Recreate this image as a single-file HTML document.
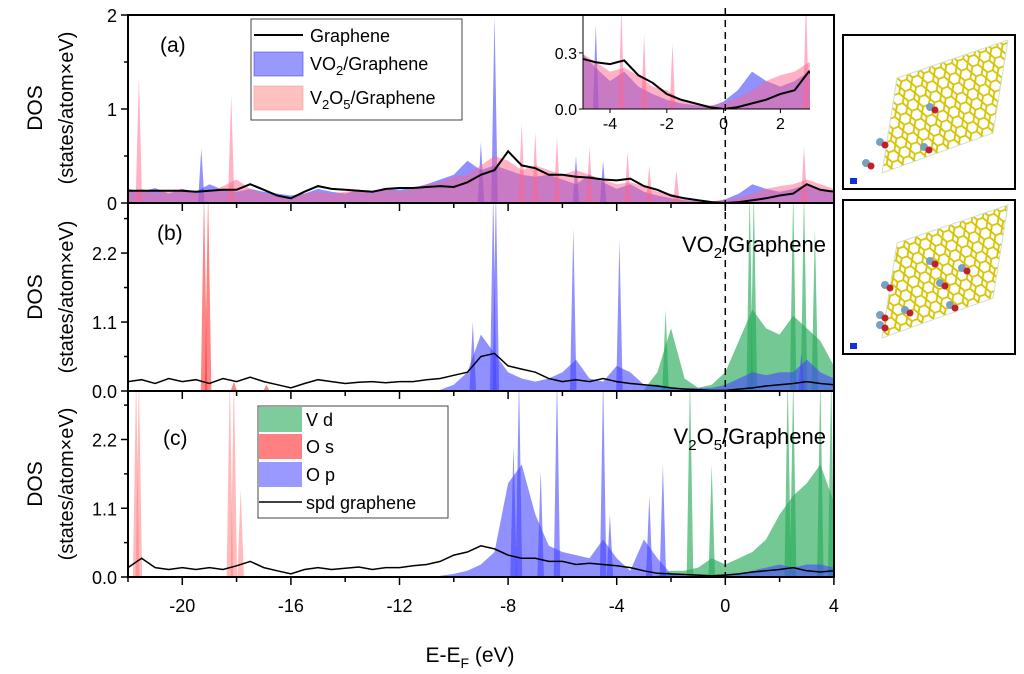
<!DOCTYPE html>
<html><head><meta charset="utf-8"><style>
html,body{margin:0;padding:0;background:#fff;}
svg{display:block;font-family:"Liberation Sans",Arial,sans-serif;}
</style></head><body>
<svg id="chart" width="1024" height="674" viewBox="0 0 1024 674">
<defs>
<clipPath id="clipA"><rect x="128" y="15" width="706" height="188"/></clipPath>
<clipPath id="clipB"><rect x="128" y="203" width="706" height="188"/></clipPath>
<clipPath id="clipC"><rect x="128" y="391" width="706" height="186"/></clipPath>
<clipPath id="clipI"><rect x="583" y="15" width="227" height="94"/></clipPath>
<pattern id="hex" width="12" height="10.4" patternUnits="userSpaceOnUse" patternTransform="rotate(-20)">
<path d="M3 0 L9 0 L12 5.2 L9 10.4 L3 10.4 L0 5.2 Z" fill="none" stroke="#d6c400" stroke-width="1.8"/>
</pattern>
</defs>
<g id="layers"></g>
</svg>
<script>
// ---- data (energies start + 0.5 eV step) ----
const gridStart = -22;
const grA = [.13,.13,.13,.13,.13,.12,.13,.14,.14,.2,.14,.08,.05,.12,.18,.15,.14,.13,.12,.15,.16,.16,.17,.18,.17,.22,.3,.35,.55,.4,.37,.3,.3,.28,.27,.25,.24,.26,.18,.14,.08,.05,.03,.01,0,.01,.03,.05,.08,.1,.2,.14,.12];
const vo2A = [.15,.12,.16,.1,.15,.12,.2,.14,.12,.15,.12,.1,.08,.1,.15,.12,.1,.14,.12,.15,.14,.16,.2,.25,.3,.45,.35,.4,.35,.3,.28,.3,.25,.2,.3,.22,.15,.2,.12,.08,.05,.03,.02,.01,.04,.1,.2,.15,.12,.15,.2,.15,.1];
const vo2APeakE = [-19.3,-8.5,-9.0,-5.5,-4.5];
const vo2APeakH = [.58,2.0,.65,.5,.45];
const v2o5A = [.12,.15,.1,.13,.15,.1,.12,.18,.25,.15,.1,.08,.05,.1,.12,.1,.12,.14,.1,.15,.12,.15,.2,.22,.28,.3,.4,.5,.45,.35,.4,.35,.3,.35,.3,.25,.2,.22,.18,.12,.1,.05,.03,.02,.03,.06,.1,.15,.18,.2,.25,.2,.15];
const v2o5APeakE = [-21.6,-18.2,-7.5,-7.0,-6.2,-5.0,-3.6,-2.8,-1.8,2.9];
const v2o5APeakH = [1.35,1.15,.85,.75,.7,.6,.55,.4,.35,.6];

const grB = [.15,.18,.12,.2,.15,.18,.12,.2,.15,.22,.15,.1,.05,.12,.18,.15,.12,.14,.15,.13,.15,.15,.18,.2,.25,.3,.55,.6,.4,.35,.3,.2,.15,.18,.15,.2,.15,.12,.1,.08,.05,.03,.02,.01,.01,.03,.05,.08,.1,.12,.15,.12,.1];
const opBStart = -10.5;
const opB = [.02,.1,.3,.9,.6,.3,.2,.15,.2,.3,.5,.2,.15,.4,.3,.1,.1,.05,.05,.05,.05,.1,.2,.3,.25,.3,.3,.5,.3,.2];
const opBPeakE = [-9.3,-8.55,-8.45,-5.6,-3.9,2.8];
const opBPeakH = [1.1,3.2,3.2,2.6,2.4,0.6];
const vdBStart = -3;
const vdB = [.02,.3,1.0,.2,.05,.1,.3,.8,1.3,1.0,.9,1.2,1.0,.8,.4];
const vdBPeakE = [-2.2,0.9,1.05,2.5,2.9,3.3];
const vdBPeakH = [1.3,3.2,3.2,3.2,3.2,2.6];
const osBPeakE = [-19.2,-19.05,-18.1,-16.9];
const osBPeakH = [3.2,3.2,0.15,0.1];

const grC = [.15,.3,.15,.12,.15,.12,.15,.12,.18,.25,.15,.1,.05,.12,.15,.12,.14,.16,.12,.15,.15,.18,.2,.25,.35,.4,.5,.45,.35,.3,.3,.25,.25,.2,.22,.2,.18,.15,.1,.06,.05,.04,.03,.02,.03,.05,.08,.1,.12,.15,.1,.08,.1];
const opCStart = -10.5;
const opC = [.02,.05,.1,.2,.4,1.5,1.8,1.0,.5,.4,.35,.3,.6,.3,.1,.6,.3,.05,.02,.02,.02,.05,.05,.1,.15,.2,.15,.2,.2,.15];
const opCPeakE = [-7.8,-7.6,-6.8,-6.2,-4.5,-4.25,-2.8,-2.3];
const opCPeakH = [2.1,3.2,1.7,3.2,3.2,1.0,1.3,1.8];
const vdCStart = -3;
const vdC = [0,.02,.1,.1,.15,.3,.2,.3,.4,.6,1.0,1.3,1.5,1.8,1.2];
const vdCPeakE = [-1.3,-0.5,2.3,2.5,3.5,3.9];
const vdCPeakH = [3.2,1.8,3.2,3.2,3.2,3.2];
const osCPeakE = [-21.7,-21.6,-18.25,-18.1,-17.85];
const osCPeakH = [3.2,3.2,3.2,3.2,1.4];

const xTicks = [-20,-16,-12,-8,-4,0,4];
const aTicks = [0,1,2];
const bcTicks = [0.0,1.1,2.2];
const insetXTicks = [-4,-2,0,2];
const insetYTicks = [0.0,0.3];

// ---- scales ----
const X = e => 128 + (e + 22) * 27.15;
const Ya = v => 203 - v * 94;
const Yb = v => 391 - v * 62.7;
const Yc = v => 577 - v * 62.5;
const Xi = e => 581.6 + (e + 5) * 28.4;
const Yi = v => 109 - v * 187;

const NS = "http://www.w3.org/2000/svg";
const root = document.getElementById('layers');
function mk(tag, attrs, parent) {
  const el = document.createElementNS(NS, tag);
  for (const k in attrs) el.setAttribute(k, attrs[k]);
  (parent || root).appendChild(el);
  return el;
}
function pts(arr, start, xs, ys) {
  return arr.map((v, i) => xs(start + 0.5 * i).toFixed(1) + ',' + ys(v).toFixed(1));
}
function area(arr, start, xs, ys, fill, g, name) {
  const p = pts(arr, start, xs, ys);
  const e0 = start, e1 = start + 0.5 * (arr.length - 1);
  const d = xs(e0).toFixed(1) + ',' + ys(0) + ' ' + p.join(' ') + ' ' + xs(e1).toFixed(1) + ',' + ys(0);
  const el = mk('polygon', {points: d, fill: fill, stroke: 'none'}, g);
  
  
}
function peaks(E, H, xs, ys, fill, g, name, w) {
  E.forEach((e, i) => {
    const d = xs(e - w).toFixed(1) + ',' + ys(0) + ' ' + xs(e).toFixed(1) + ',' + ys(H[i]).toFixed(1) + ' ' + xs(e + w).toFixed(1) + ',' + ys(0);
    const el = mk('polygon', {points: d, fill: fill}, g);
    
    
  });
}
function line(arr, start, xs, ys, g, name, sw) {
  const el = mk('polyline', {points: pts(arr, start, xs, ys).join(' '), fill: 'none', stroke: '#000', 'stroke-width': sw}, g);
  
  
}
function text(x, y, s, attrs, name) {
  const el = mk('text', Object.assign({x: x, y: y}, attrs || {}));
  el.textContent = s;
  
  
  return el;
}

const BLUE = 'rgba(70,70,255,0.6)', PINK = 'rgba(255,100,140,0.5)', GREEN = 'rgba(40,170,90,0.65)', RED = 'rgba(255,50,50,0.6)';

// panel a
const gA = mk('g', {'clip-path': 'url(#clipA)'});


area(vo2A, gridStart, X, Ya, BLUE, gA, 'vo2-graphene-area');
peaks(vo2APeakE, vo2APeakH, X, Ya, BLUE, gA, 'vo2-graphene-peak', 0.12);
area(v2o5A, gridStart, X, Ya, PINK, gA, 'v2o5-graphene-area');
peaks(v2o5APeakE, v2o5APeakH, X, Ya, PINK, gA, 'v2o5-graphene-peak', 0.12);
line(grA, gridStart, X, Ya, gA, 'graphene-line', 2);

// panel b
const gB = mk('g', {'clip-path': 'url(#clipB)'});


area(vdB, vdBStart, X, Yb, GREEN, gB, 'vd-area-b');
peaks(vdBPeakE, vdBPeakH, X, Yb, GREEN, gB, 'vd-peak-b', 0.12);
peaks(osBPeakE, osBPeakH, X, Yb, RED, gB, 'os-peak-b', 0.12);
area(opB, opBStart, X, Yb, BLUE, gB, 'op-area-b');
peaks(opBPeakE, opBPeakH, X, Yb, BLUE, gB, 'op-peak-b', 0.12);
line(grB, gridStart, X, Yb, gB, 'spd-graphene-line-b', 1.5);

// panel c
const gC = mk('g', {'clip-path': 'url(#clipC)'});


area(vdC, vdCStart, X, Yc, GREEN, gC, 'vd-area-c');
peaks(vdCPeakE, vdCPeakH, X, Yc, GREEN, gC, 'vd-peak-c', 0.12);
peaks(osCPeakE, osCPeakH, X, Yc, 'rgba(255,120,120,0.5)', gC, 'os-peak-c', 0.12);
area(opC, opCStart, X, Yc, BLUE, gC, 'op-area-c');
peaks(opCPeakE, opCPeakH, X, Yc, BLUE, gC, 'op-peak-c', 0.12);
line(grC, gridStart, X, Yc, gC, 'spd-graphene-line-c', 1.5);

// inset
const gI = mk('g', {'clip-path': 'url(#clipI)'});


mk('rect', {x: 583, y: 15, width: 227, height: 94, fill: '#fff'}, gI);
area(vo2A, gridStart, Xi, Yi, BLUE, gI, 'inset-vo2-area');
peaks(vo2APeakE, vo2APeakH, Xi, Yi, BLUE, gI, 'inset-vo2-peak', 0.1);
area(v2o5A, gridStart, Xi, Yi, PINK, gI, 'inset-v2o5-area');
peaks(v2o5APeakE, v2o5APeakH, Xi, Yi, PINK, gI, 'inset-v2o5-peak', 0.1);
line(grA, gridStart, Xi, Yi, gI, 'inset-graphene-line', 2);
mk('line', {x1: 583, y1: 15, x2: 583, y2: 109, stroke: '#000', 'stroke-width': 1});
mk('line', {x1: 583, y1: 109, x2: 810, y2: 109, stroke: '#000', 'stroke-width': 1});
insetXTicks.forEach(t => {
  mk('line', {x1: Xi(t), y1: 109, x2: Xi(t), y2: 113, stroke: '#000'});
  text(Xi(t), 129, String(t), {'font-size': 16, 'text-anchor': 'middle'}, 'inset-x-tick-label');
});
insetYTicks.forEach(t => {
  mk('line', {x1: 579, y1: Yi(t), x2: 583, y2: Yi(t), stroke: '#000'});
  text(577, Yi(t) + 6, t.toFixed(1), {'font-size': 16, 'text-anchor': 'end'}, 'inset-y-tick-label');
});

// dashed fermi line
mk('line', {x1: X(0), y1: 8, x2: X(0), y2: 577, stroke: '#000', 'stroke-width': 1.5, 'stroke-dasharray': '7,5'});

// axes frame
mk('rect', {x: 128, y: 15, width: 706, height: 562, fill: 'none', stroke: '#000', 'stroke-width': 2});
[203, 391].forEach(y => mk('line', {x1: 128, y1: y, x2: 834, y2: y, stroke: '#000', 'stroke-width': 2}));
[203, 391, 577].forEach(y => {
  for (let e = -22; e <= 4; e += 2) {
    const major = xTicks.includes(e);
    mk('line', {x1: X(e), y1: y, x2: X(e), y2: y + (major ? 8 : 5), stroke: '#000', 'stroke-width': 1.5});
  }
});
xTicks.forEach(t => text(X(t), 612, String(t), {'font-size': 18, 'text-anchor': 'middle'}, 'x-tick-label'));
aTicks.forEach(t => {
  mk('line', {x1: 121, y1: Ya(t), x2: 128, y2: Ya(t), stroke: '#000', 'stroke-width': 1.5});
  text(117, Ya(t) + 7, String(t), {'font-size': 18, 'text-anchor': 'end'}, 'panel-a-y-tick-label');
});
[0.5, 1.5].forEach(t => mk('line', {x1: 124, y1: Ya(t), x2: 128, y2: Ya(t), stroke: '#000', 'stroke-width': 1.5}));
[[Yb, 'b'], [Yc, 'c']].forEach(([ys, n]) => {
  bcTicks.forEach(t => {
    mk('line', {x1: 121, y1: ys(t), x2: 128, y2: ys(t), stroke: '#000', 'stroke-width': 1.5});
    text(117, ys(t) + 7, t.toFixed(1), {'font-size': 18, 'text-anchor': 'end'}, 'panel-' + n + '-y-tick-label');
  });
  [0.55, 1.65, 2.75].forEach(t => mk('line', {x1: 124, y1: ys(t), x2: 128, y2: ys(t), stroke: '#000', 'stroke-width': 1.5}));
});
</script>

<script>
const s = document.getElementById('chart');
function T(x, y, html, attrs, name) {
  const el = document.createElementNS("http://www.w3.org/2000/svg", 'text');
  el.setAttribute('x', x); el.setAttribute('y', y);
  for (const k in attrs) el.setAttribute(k, attrs[k]);
  el.innerHTML = html;
  
  
  s.appendChild(el);
}
// y-axis titles
[[108,'a'],[297,'b'],[484,'c']].forEach(([cy, n]) => {
  T(0, 0, 'DOS', {'font-size': 21, 'text-anchor': 'middle', transform: 'translate(42,' + cy + ') rotate(-90)'}, 'y-axis-title-' + n);
  T(0, 0, '(states/atom×eV)', {'font-size': 20, 'text-anchor': 'middle', transform: 'translate(73,' + cy + ') rotate(-90)'}, 'y-axis-unit-' + n);
});
T(470, 662, 'E-E<tspan font-size="14" dy="6">F</tspan><tspan dy="-6"> (eV)</tspan>', {'font-size': 21, 'text-anchor': 'middle'}, 'x-axis-title');
T(160, 52, '(a)', {'font-size': 21}, 'panel-a-label');
T(157, 240, '(b)', {'font-size': 21}, 'panel-b-label');
T(163, 445, '(c)', {'font-size': 21}, 'panel-c-label');
T(826, 252, 'VO<tspan font-size="15" dy="6">2</tspan><tspan dy="-6">/Graphene</tspan>', {'font-size': 22, 'text-anchor': 'end'}, 'vo2-graphene-title');
T(826, 444, 'V<tspan font-size="15" dy="6">2</tspan><tspan dy="-6">O</tspan><tspan font-size="15" dy="6">5</tspan><tspan dy="-6">/Graphene</tspan>', {'font-size': 22, 'text-anchor': 'end'}, 'v2o5-graphene-title');

function R(attrs, name) {
  const el = document.createElementNS("http://www.w3.org/2000/svg", 'rect');
  for (const k in attrs) el.setAttribute(k, attrs[k]);
  
  
  s.appendChild(el);
  return el;
}
// legend a
R({x: 251, y: 19, width: 211, height: 101, fill: '#fff', stroke: '#444', 'stroke-width': 1}, 'legend-a-box');
const la = document.createElementNS("http://www.w3.org/2000/svg", 'line');
la.setAttribute('x1', 254); la.setAttribute('y1', 35); la.setAttribute('x2', 303); la.setAttribute('y2', 35);
la.setAttribute('stroke', '#000'); la.setAttribute('stroke-width', 2);


s.appendChild(la);
T(310, 42, 'Graphene', {'font-size': 18}, 'legend-graphene-label');
R({x: 254, y: 52, width: 49, height: 24, fill: 'rgba(70,70,255,0.55)', stroke: 'rgba(70,70,255,0.6)'}, 'legend-vo2-swatch');
T(310, 70, 'VO<tspan font-size="13" dy="5">2</tspan><tspan dy="-5">/Graphene</tspan>', {'font-size': 18}, 'legend-vo2-label');
R({x: 254, y: 86, width: 49, height: 24, fill: 'rgba(255,150,150,0.6)', stroke: 'rgba(255,150,150,0.6)'}, 'legend-v2o5-swatch');
T(310, 104, 'V<tspan font-size="13" dy="5">2</tspan><tspan dy="-5">O</tspan><tspan font-size="13" dy="5">5</tspan><tspan dy="-5">/Graphene</tspan>', {'font-size': 18}, 'legend-v2o5-label');

// legend c
R({x: 258, y: 406, width: 190, height: 112, fill: '#fff', stroke: '#444', 'stroke-width': 1}, 'legend-c-box');
R({x: 259, y: 407, width: 43, height: 25, fill: 'rgba(40,170,90,0.6)'}, 'legend-vd-swatch');
T(306, 426, 'V d', {'font-size': 18}, 'legend-vd-label');
R({x: 259, y: 434, width: 43, height: 25, fill: 'rgba(255,60,60,0.65)'}, 'legend-os-swatch');
T(306, 453, 'O s', {'font-size': 18}, 'legend-os-label');
R({x: 259, y: 462, width: 43, height: 25, fill: 'rgba(70,70,255,0.55)'}, 'legend-op-swatch');
T(306, 481, 'O p', {'font-size': 18}, 'legend-op-label');
const lc = document.createElementNS("http://www.w3.org/2000/svg", 'line');
lc.setAttribute('x1', 259); lc.setAttribute('y1', 502); lc.setAttribute('x2', 302); lc.setAttribute('y2', 502);
lc.setAttribute('stroke', '#000'); lc.setAttribute('stroke-width', 1.5);


s.appendChild(lc);
T(306, 509, 'spd graphene', {'font-size': 18}, 'legend-spd-label');

// structure images
[[35, 0], [200, 165]].forEach(([y, dy], k) => {
  R({x: 843, y: y, width: 172, height: 154, fill: '#fff', stroke: '#000', 'stroke-width': 2}, 'structure-box-' + (k + 1));
  const poly = document.createElementNS("http://www.w3.org/2000/svg", 'polygon');
  poly.setAttribute('points', [[897,78],[1008,40],[993,133],[882,173]].map(p => p[0] + ',' + (p[1] + dy)).join(' '));
  poly.setAttribute('fill', 'url(#hex)');
  poly.setAttribute('stroke', '#cde0d0');
  
  
  s.appendChild(poly);
  const mols = k === 0 ? [[880,142],[930,107],[924,147],[866,163]] : [[885,120],[930,96],[905,145],[950,140],[880,160],[962,103],[940,118],[880,150]];
  mols.forEach(([mx, my]) => {
    const c1 = document.createElementNS("http://www.w3.org/2000/svg", 'circle');
    c1.setAttribute('cx', mx); c1.setAttribute('cy', my + dy); c1.setAttribute('r', 4);
    c1.setAttribute('fill', '#7aa0c0');
    
    
    s.appendChild(c1);
    const c2 = document.createElementNS("http://www.w3.org/2000/svg", 'circle');
    c2.setAttribute('cx', mx + 5); c2.setAttribute('cy', my + dy + 3); c2.setAttribute('r', 3.5);
    c2.setAttribute('fill', '#c0202a');
    
    
    s.appendChild(c2);
  });
  R({x: 850, y: y + 143, width: 7, height: 6, fill: '#1030e0'}, 'axis-indicator-' + (k + 1));
});
</script>
</body></html>
